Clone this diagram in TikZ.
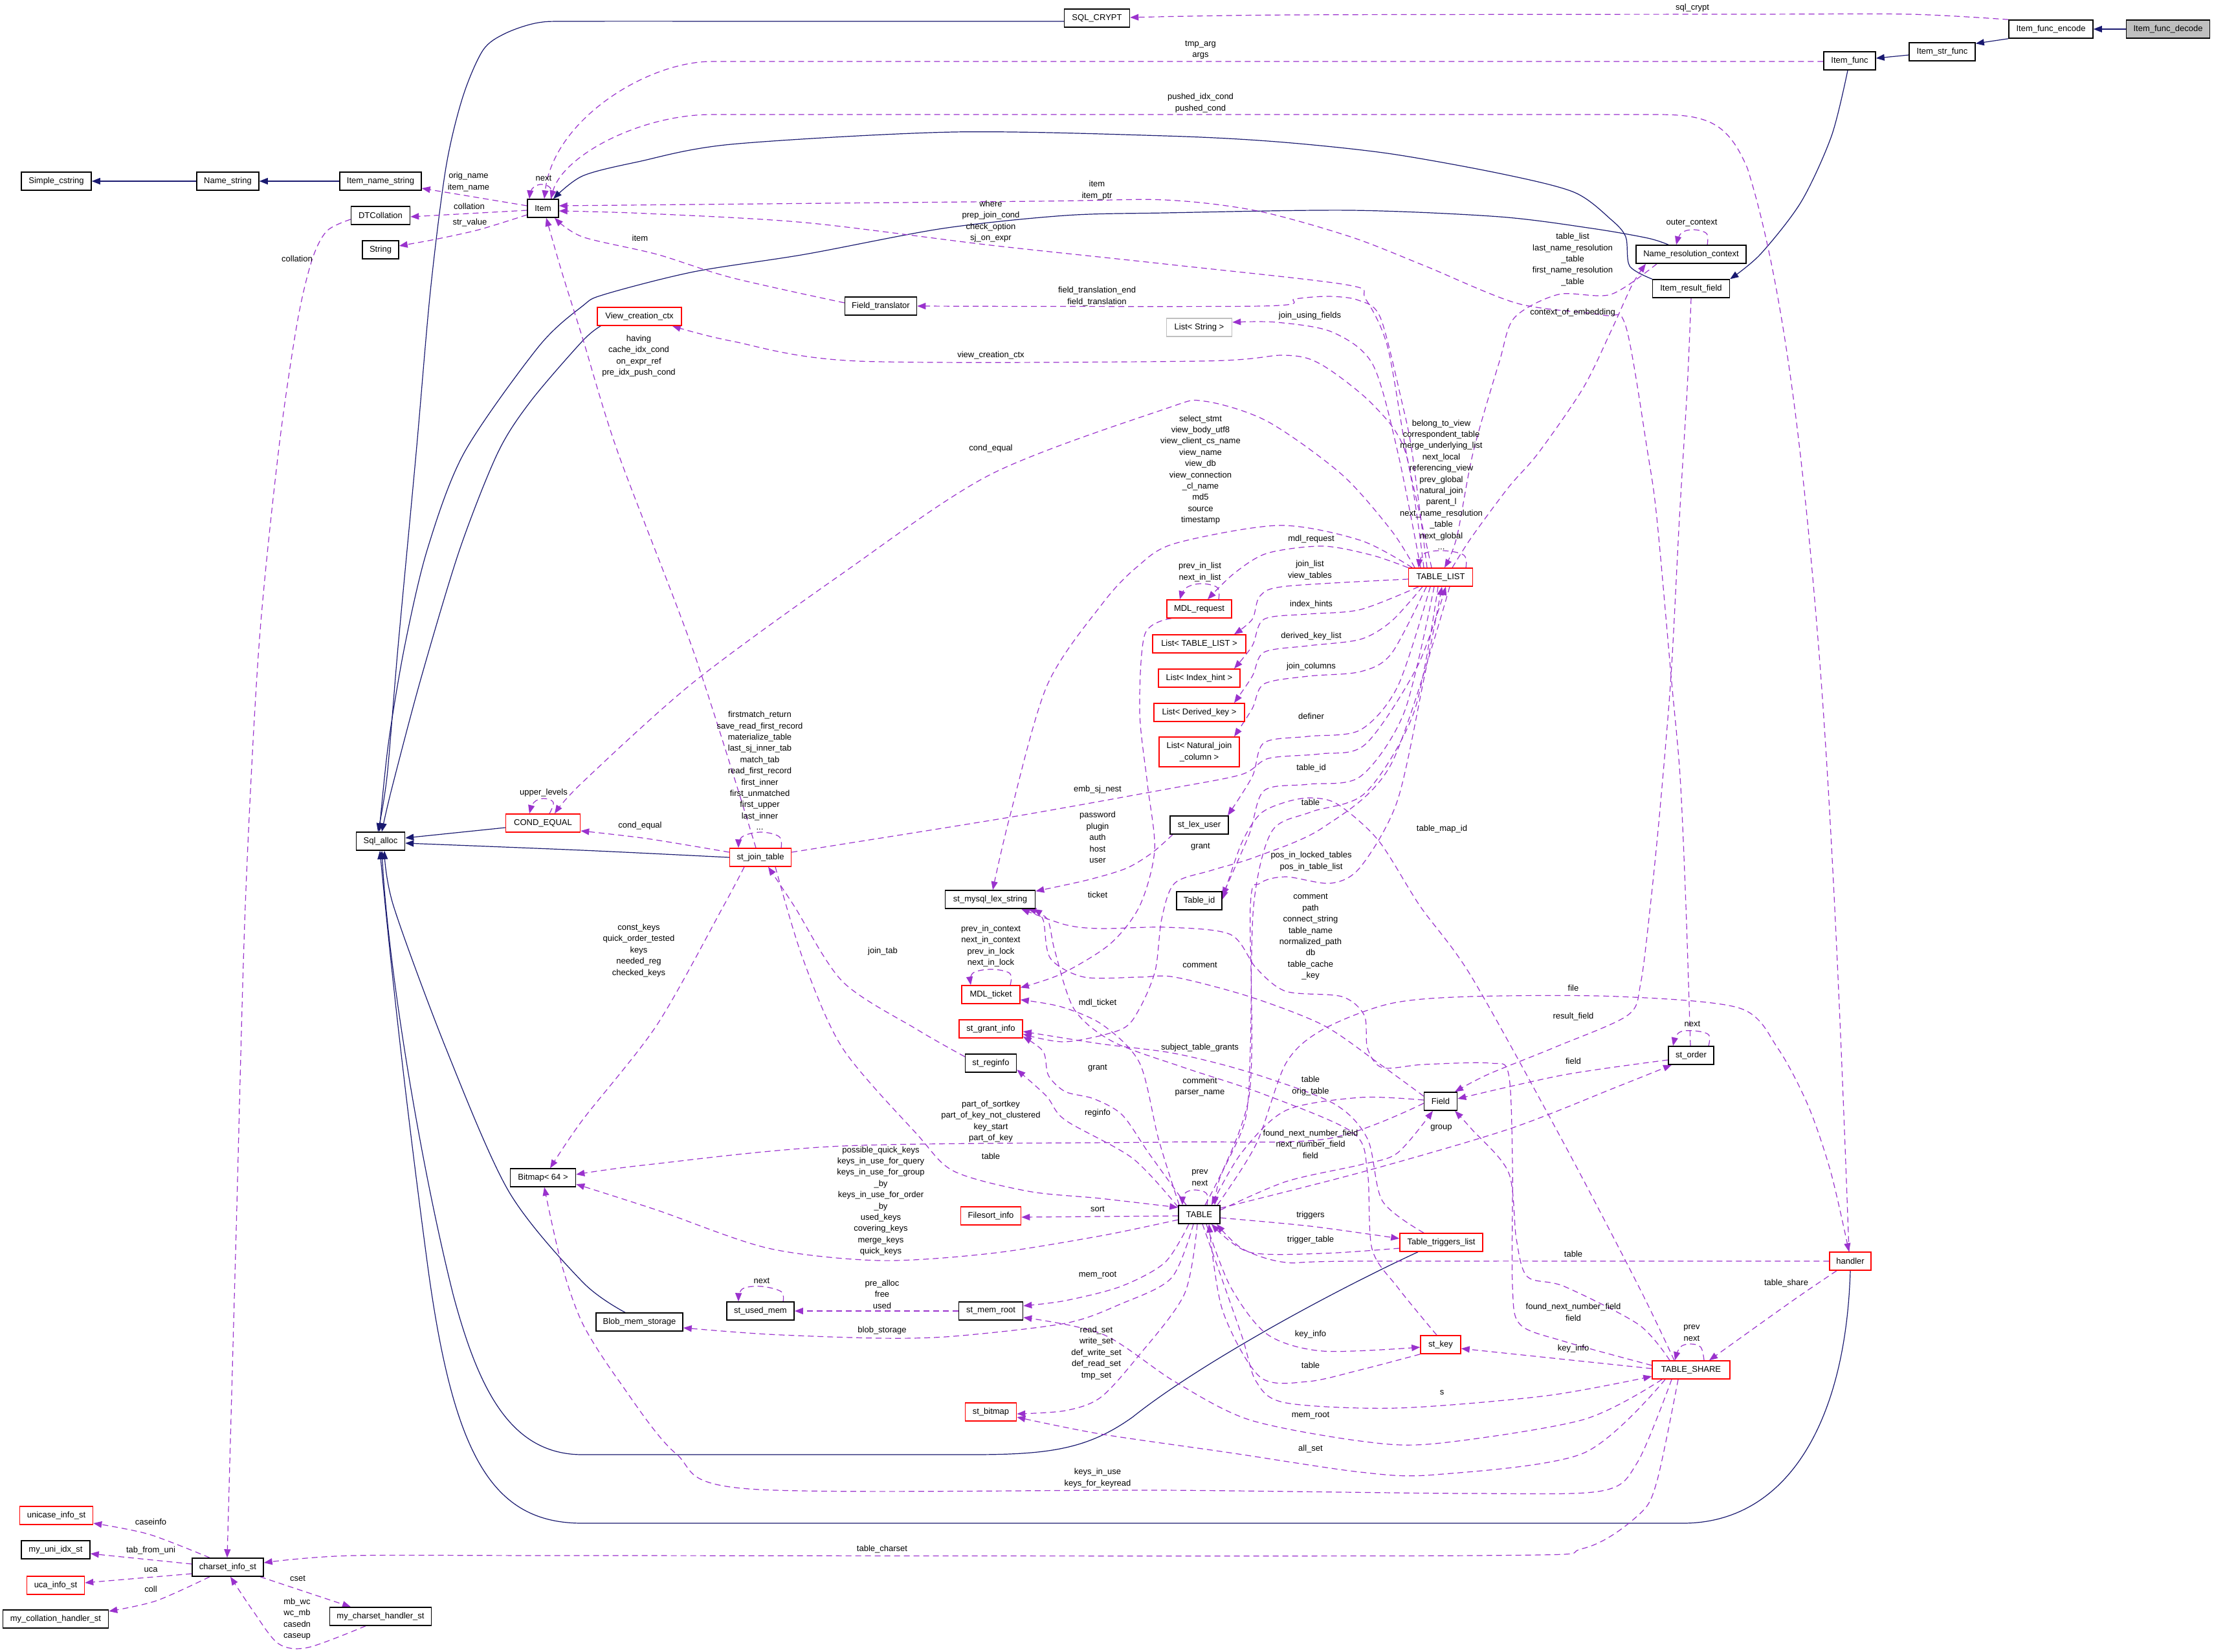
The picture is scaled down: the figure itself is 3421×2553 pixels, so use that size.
\documentclass[tikz,border=0pt]{standalone}
\usepackage{fontspec}
\setmainfont{Liberation Sans}
\usetikzlibrary{arrows.meta}
\definecolor{navy}{HTML}{191970}
\definecolor{purp}{HTML}{9A32CD}
\definecolor{boxred}{HTML}{FF0000}
\pgfdeclarelayer{edgelayer}
\pgfsetlayers{edgelayer,main}
\newcommand\dxfont{\fontsize{13}{17.4}\selectfont}
\tikzset{
 cls/.style={draw=black, line width=1.5pt, fill=white, minimum height=28pt, inner sep=0pt, font=\dxfont},
 rcls/.style={cls, draw=boxred},
 gcls/.style={cls, draw=gray!50},
 inh/.style={draw=navy, line width=1.2pt, -{Triangle[length=13pt,width=10pt]}},
 dep/.style={draw=purp, line width=1.2pt, dash pattern=on 9pt off 6pt, -{Triangle[length=13pt,width=10pt]}},
 lab/.style={font=\dxfont, align=center, inner sep=0pt},
}
\begin{document}
\begin{tikzpicture}[x=1pt,y=-1pt]
\useasboundingbox (0,0) rectangle (3421,2553);
\begin{pgfonlayer}{edgelayer}\fill[white] (0,0) rectangle (3421,2553);\end{pgfonlayer}
% ---------------- nodes
\node[cls,minimum width=108pt] (simple) at (87,280) {Simple\_cstring};
\node[cls,minimum width=96pt] (namestr) at (352,280) {Name\_string};
\node[cls,minimum width=126pt] (itemname) at (588,280) {Item\_name\_string};
\node[cls,minimum width=48pt] (item) at (839,322) {Item};
\node[cls,minimum width=91pt] (dtcoll) at (588,333) {DTCollation};
\node[cls,minimum width=56pt] (string) at (588,386) {String};
\node[cls,minimum width=101pt] (sqlcrypt) at (1695,28) {SQL\_CRYPT};
\node[cls,minimum width=130pt] (encode) at (3169,45) {Item\_func\_encode};
\node[cls,minimum width=129pt,fill=gray!50] (decode) at (3350,45) {Item\_func\_decode};
\node[cls,minimum width=102pt] (strfunc) at (3001,80) {Item\_str\_func};
\node[cls,minimum width=80pt] (func) at (2858,94) {Item\_func};
\node[cls,minimum width=170pt] (nrc) at (2613,393) {Name\_resolution\_context};
\node[cls,minimum width=119pt] (irf) at (2613,446) {Item\_result\_field};
\node[gcls,minimum width=101pt] (liststring) at (1853,506) {List< String >};
\node[cls,minimum width=111pt] (ftrans) at (1361,473) {Field\_translator};
\node[rcls,minimum width=130pt] (vcc) at (988,489) {View\_creation\_ctx};
\node[rcls,minimum width=115pt] (condeq) at (839,1272) {COND\_EQUAL};
\node[cls,minimum width=75pt] (sqlalloc) at (588,1300) {Sql\_alloc};
\node[rcls,minimum width=95pt] (jt) at (1175,1325) {st\_join\_table};
\node[cls,minimum width=139pt] (lex) at (1530,1390) {st\_mysql\_lex\_string};
\node[rcls,minimum width=99pt] (tl) at (2226,892) {TABLE\_LIST};
\node[rcls,minimum width=100pt] (mdlreq) at (1853,941) {MDL\_request};
\node[rcls,minimum width=144pt] (ltl) at (1853,995) {List< TABLE\_LIST >};
\node[rcls,minimum width=126pt] (lih) at (1853,1048) {List< Index\_hint >};
\node[rcls,minimum width=140pt] (ldk) at (1853,1101) {List< Derived\_key >};
\node[rcls,minimum width=124pt,minimum height=46pt,align=center] (lnj) at (1853,1162) {List< Natural\_join\\\_column >};
\node[cls,minimum width=90pt] (lexuser) at (1853,1275) {st\_lex\_user};
\node[cls,minimum width=70pt] (tid) at (1853,1392) {Table\_id};
\node[rcls,minimum width=90pt] (ticket) at (1531,1537) {MDL\_ticket};
\node[rcls,minimum width=98pt] (grant) at (1531,1590) {st\_grant\_info};
\node[cls,minimum width=79pt] (reginfo) at (1531,1643) {st\_reginfo};
\node[rcls,minimum width=93pt] (filesort) at (1531,1879) {Filesort\_info};
\node[cls,minimum width=104pt] (usedmem) at (1175,2026) {st\_used\_mem};
\node[cls,minimum width=99pt] (memroot) at (1531,2026) {st\_mem\_root};
\node[cls,minimum width=134pt] (blob) at (988,2043) {Blob\_mem\_storage};
\node[rcls,minimum width=79pt] (stbitmap) at (1531,2182) {st\_bitmap};
\node[cls,minimum width=101pt] (bitmap) at (839,1820) {Bitmap< 64 >};
\node[cls,minimum width=110pt] (cs) at (352,2422) {charset\_info\_st};
\node[rcls,minimum width=113pt] (unicase) at (87,2342) {unicase\_info\_st};
\node[cls,minimum width=106pt] (uniidx) at (86,2395) {my\_uni\_idx\_st};
\node[rcls,minimum width=89pt] (uca) at (86,2450) {uca\_info\_st};
\node[cls,minimum width=163pt] (collh) at (86,2502) {my\_collation\_handler\_st};
\node[cls,minimum width=157pt] (csh) at (588,2498) {my\_charset\_handler\_st};
\node[cls,minimum width=64pt] (table) at (1853,1877) {TABLE};
\node[cls,minimum width=51pt] (field) at (2226,1702) {Field};
\node[rcls,minimum width=128pt] (ttl) at (2227,1920) {Table\_triggers\_list};
\node[rcls,minimum width=62pt] (stkey) at (2226,2078) {st\_key};
\node[rcls,minimum width=120pt] (share) at (2613,2117) {TABLE\_SHARE};
\node[rcls,minimum width=64pt] (handler) at (2859,1949) {handler};
\node[cls,minimum width=70pt] (order) at (2613,1631) {st\_order};
% ---------------- edges
\begin{pgfonlayer}{edgelayer}
% inheritance
\draw[inh] (namestr.west) -- (simple.east);
\draw[inh] (itemname.west) -- (namestr.east);
\draw[inh] (decode.west) -- (encode.east);
\draw[inh] (encode.south west) -- ([yshift=-2pt]strfunc.north east);
\draw[inh] ([yshift=-5pt]strfunc.west) -- ([yshift=4pt]func.east);
\draw[inh] plot[smooth,tension=.5] coordinates {([xshift=-3pt]func.south) (2830,210) (2783,312) (2720,393) (irf.north east)};
\draw[inh] plot[smooth,tension=.5] coordinates {(irf.north west) (2518,411) (2512,366) (2489,339) (2432,297) (2317,268) (2144,237) (1972,219) (1800,210) (1474,204) (1130,223) (986,250) (900,272) ([xshift=16pt]item.north)};
\draw[inh] plot[smooth,tension=.5] coordinates {([xshift=-35pt]nrc.north) (2546,368) (2460,353) (2317,335) (2087,325) (1800,329) (1646,333) (1457,353) (1244,393) (1072,420) (934,455) (900,473) (832,536) (717,700) (660,850) (625,1000) (600,1150) ([xshift=-2pt]sqlalloc.north)};
\draw[inh] plot[smooth,tension=.5] coordinates {([yshift=-5pt]sqlcrypt.west) (1200,33) (900,33) (832,35) (780,52) (746,78) (715,150) (689,259) (665,450) (643,700) (615,1000) (598,1200) ([xshift=-4pt]sqlalloc.north)};
\draw[inh] plot[smooth,tension=.5] coordinates {([xshift=6pt]vcc.south west) (900,527) (820,620) (769,700) (710,850) (650,1050) (605,1220) ([xshift=2pt]sqlalloc.north)};
\draw[inh] ([yshift=-7pt]condeq.west) -- ([yshift=5pt]sqlalloc.east);
\draw[inh] plot[smooth,tension=.5] coordinates {(jt.west) (900,1314) ([yshift=-3pt]sqlalloc.east)};
\draw[inh] plot[smooth,tension=.5] coordinates {([xshift=-22pt]blob.north) (900,1981) (786,1841) (689,1620) (608,1400) ([xshift=6pt]sqlalloc.south)};
\draw[inh] ([xshift=-36pt]ttl.south) .. controls (2050,2000) and (1850,2110) .. (1750,2190) .. controls (1680,2240) and (1620,2248) .. (1500,2248) -- (900,2248) .. controls (790,2248) and (740,2150) .. (700,2000) .. controls (650,1800) and (600,1500) .. ([xshift=2pt]sqlalloc.south);
\draw[inh] (handler.south) .. controls (2852,2200) and (2760,2354) .. (2600,2354) -- (900,2354) .. controls (760,2354) and (700,2250) .. (660,1950) .. controls (620,1650) and (600,1450) .. ([xshift=-1pt]sqlalloc.south);
% usage (top part)
\draw[dep] plot[smooth,tension=.5] coordinates {(encode.north west) (2950,22) (2700,22) (2000,23) ([yshift=1pt]sqlcrypt.east)};
\draw[dep] ([yshift=-1pt]func.west) -- (1100,95) .. controls (1000,95) and (855,185) .. ([xshift=2pt]item.north);
\draw[dep] ([xshift=-2pt]handler.north) .. controls (2845,1600) and (2830,1250) .. (2810,1000) .. controls (2790,750) and (2760,450) .. (2700,260) .. controls (2670,190) and (2640,177) .. (2560,177) -- (1100,177) .. controls (990,177) and (870,240) .. ([xshift=12pt]item.north);
\draw[dep] plot[smooth,tension=.5] coordinates {([xshift=-1pt]order.north) (2605,1400) (2596,1200) (2582,1044) (2560,800) (2546,700) (2512,504) (2477,487) (2345,469) (2202,411) (2087,366) (1943,326) (1800,309) (1600,311) ([yshift=4pt]item.east)};
\draw[dep] plot[smooth,tension=.5] coordinates {([xshift=-14pt]tl.north) (2195,800) (2173,700) (2144,536) (2110,462) (2080,440) (1800,408) (1531,379) (1244,344) (1000,330) ([yshift=-4pt]item.east)};
\draw[dep] plot[smooth,tension=.5] coordinates {([yshift=5pt]ftrans.west) (1130,429) (1015,393) (900,366) ([xshift=18pt]item.south)};
\draw[dep] plot[smooth,tension=.5] coordinates {([xshift=-21pt]tl.north) (2182,700) (2167,625) (2133,491) (2099,464) (2053,458) (2001,462) (1949,473) (ftrans.east)};
\draw[dep] plot[smooth,tension=.5] coordinates {([xshift=-31pt]tl.north) (2160,700) (2121,563) (2058,513) (1972,498) ([yshift=8pt]liststring.east)};
\draw[dep] plot[smooth,tension=.5] coordinates {([xshift=-26pt]tl.north) (2172,700) (2121,625) (2041,563) (1984,549) (1857,558) (1325,558) (1130,527) ([xshift=-15pt]vcc.south east)};
\draw[dep] plot[smooth,tension=.5] coordinates {([xshift=-40pt]tl.north) (2150,820) (2073,733) (1958,651) (1861,620) (1800,632) (1531,733) (1302,886) (1072,1054) (900,1209) ([xshift=18pt]condeq.north)};
\draw[dep] plot[smooth,tension=.5] coordinates {([xshift=-44pt]tl.north) (2102,835) (1976,812) (1815,840) (1757,876) (1704,932) (1618,1059) (1560,1263) ([xshift=4pt]lex.north)};
\draw[dep] plot[smooth,tension=.5] coordinates {(tl.north west) (2120,858) (2044,844) (1958,855) (1907,886) ([xshift=13pt]mdlreq.north)};
\draw[dep] plot[smooth,tension=.6] coordinates {([xshift=30pt]mdlreq.north) (1881,908) (1855,902) (1832,909) ([xshift=-30pt]mdlreq.north)};
\draw[dep] plot[smooth,tension=.5] coordinates {([yshift=-3pt]tl.west) (1987,906) (1947,921) (1935,957) ([xshift=54pt]ltl.north)};
\draw[dep] plot[smooth,tension=.5] coordinates {([xshift=-34pt]tl.south) (2102,942) (2021,949) (1953,957) (1935,998) ([xshift=54pt]lih.north)};
\draw[dep] plot[smooth,tension=.5] coordinates {([xshift=-28pt]tl.south) (2150,960) (2102,988) (2021,998) (1953,1008) (1935,1045) ([xshift=54pt]ldk.north)};
\draw[dep] plot[smooth,tension=.5] coordinates {([xshift=-22pt]tl.south) (2150,1010) (2102,1038) (2021,1045) (1953,1057) (1935,1095) ([xshift=54pt]lnj.north)};
\draw[dep] plot[smooth,tension=.5] coordinates {([xshift=-16pt]tl.south) (2160,1060) (2102,1128) (2021,1138) (1953,1148) (1935,1200) ([xshift=44pt]lexuser.north)};
\draw[dep] plot[smooth,tension=.5] coordinates {([xshift=-10pt]tl.south) (2170,1100) (2102,1200) (2021,1212) (1953,1222) (1930,1290) ([yshift=8pt]tid.east)};
\draw[dep] plot[smooth,tension=.5] coordinates {([xshift=-4pt]tl.south) (2185,1100) (2110,1225) (2025,1255) (1965,1285) (1937,1400) (1932,1620) (1924,1731) (1885,1820) ([xshift=24pt]table.north)};
\draw[dep] plot[smooth,tension=.5] coordinates {([xshift=14pt]tl.south) (2150,1180) (2044,1279) (1941,1324) (1872,1345) (1815,1365) (1795,1420) (1785,1500) (1760,1560) (1732,1591) (1646,1610) ([yshift=-8pt]grant.east)};
\draw[dep] plot[smooth,tension=.5] coordinates {([xshift=9pt]table.north) (1930,1694) (1932,1400) (1947,1365) (1987,1355) (2056,1365) (2102,1340) (2159,1238) (2200,1050) ([xshift=2pt]tl.south)};
\draw[dep] plot[smooth,tension=.5] coordinates {([xshift=-26pt]share.north) (2532,1988) (2417,1768) (2274,1510) (2194,1400) (2130,1299) (2067,1243) (2025,1233) (1985,1240) (1947,1258) (1918,1304) ([yshift=2pt]tid.east)};
\draw[dep] plot[smooth,tension=.5] coordinates {([yshift=8pt]jt.east) (1560,1263) (1800,1220) (1918,1197) (1960,1172) (2040,1165) (2110,1150) (2190,1030) ([xshift=8pt]tl.south)};
\draw[dep] plot[smooth,tension=.5] coordinates {([xshift=-53pt]nrc.south) (2489,455) (2408,455) (2340,491) (2317,558) (2276,700) (2251,830) ([xshift=6pt]tl.north)};
\draw[dep] plot[smooth,tension=.5] coordinates {([xshift=18pt]tl.north) (2274,830) (2331,753) (2377,700) (2446,600) (2490,510) (2522,440) ([xshift=-70pt]nrc.south)};
\draw[dep] plot[smooth,tension=.6] coordinates {([xshift=39pt]tl.north) (2262,858) (2230,851) (2200,856) ([xshift=-34pt]tl.north)};
\draw[dep] plot[smooth,tension=.6] coordinates {([xshift=25pt]nrc.north) (2637,361) (2617,355) (2598,360) ([xshift=-23pt]nrc.north)};
\draw[dep] plot[smooth,tension=.6] coordinates {([xshift=13pt]item.north) (850,290) (835,285) (822,292) ([xshift=-21pt]item.north)};
\draw[dep] ([yshift=4pt]item.west) -- ([yshift=-11pt]itemname.east);
\draw[dep] ([yshift=-3pt]item.west) -- ([yshift=-2pt]dtcoll.east);
\draw[dep] plot[smooth,tension=.5] coordinates {([yshift=-10pt]item.west) (740,355) (672,370) ([yshift=6pt]string.east)};
\draw[dep] plot[smooth,tension=.5] coordinates {([yshift=-6pt]dtcoll.west) (505,357) (482,402) (459,500) (430,700) (400,1000) (379,1400) (365,1900) ([xshift=-1pt]cs.north)};
% middle part
\draw[dep] plot[smooth,tension=.6] coordinates {([xshift=10pt]condeq.north) (855,1240) (840,1234) (825,1240) ([xshift=-21pt]condeq.north)};
\draw[dep] plot[smooth,tension=.5] coordinates {([yshift=8pt]jt.west) (1000,1296) ([yshift=-12pt]condeq.east)};
\draw[dep] plot[smooth,tension=.6] coordinates {([xshift=32pt]jt.north) (1204,1293) (1176,1286) (1147,1293) ([xshift=-34pt]jt.north)};
\draw[dep] plot[smooth,tension=.5] coordinates {([xshift=-7pt]jt.north) (1072,1008) (955,700) (900,522) (868,420) ([xshift=5pt]item.south)};
\draw[dep] plot[smooth,tension=.5] coordinates {([xshift=-25pt]jt.south) (1118,1400) (1015,1584) (900,1731) ([xshift=11pt]bitmap.north)};
\draw[dep] plot[smooth,tension=.5] coordinates {([xshift=23pt]jt.south) (1240,1480) (1302,1620) (1417,1753) (1474,1810) (1589,1841) (1700,1852) ([yshift=11pt]table.west)};
\draw[dep] plot[smooth,tension=.5] coordinates {([yshift=10pt]reginfo.west) (1417,1591) (1302,1517) (1227,1400) ([xshift=12pt]jt.south)};
\draw[dep] plot[smooth,tension=.5] coordinates {([xshift=-41pt]lexuser.south) (1780,1318) (1740,1342) (1680,1360) ([yshift=-2pt]lex.north east)};
\draw[dep] plot[smooth,tension=.5] coordinates {([xshift=-43pt]mdlreq.south) (1769,980) (1761,1100) (1773,1212) (1784,1314) (1761,1400) (1715,1459) (1640,1505) ([yshift=-4pt]ticket.north east)};
\draw[dep] plot[smooth,tension=.6] coordinates {([xshift=30pt]ticket.north) (1560,1504) (1531,1498) (1503,1504) ([xshift=-31pt]ticket.north)};
\draw[dep] plot[smooth,tension=.5] coordinates {([xshift=-31pt]table.north) (1790,1760) (1761,1643) (1704,1584) (1640,1556) ([yshift=-8pt]ticket.east)};
\draw[dep] plot[smooth,tension=.5] coordinates {([xshift=-20pt]table.north) (1775,1782) (1734,1723) (1690,1698) (1646,1687) (1620,1662) (1612,1625) ([yshift=-12pt]grant.east)};
\draw[dep] plot[smooth,tension=.5] coordinates {([xshift=-27pt]ttl.north) (2136,1856) (2113,1760) (2060,1705) (1930,1657) (1815,1628) (1700,1613) ([yshift=-4pt]grant.east)};
\draw[dep] plot[smooth,tension=.5] coordinates {([yshift=-3pt]table.north west) (1750,1790) (1646,1731) (1617,1694) ([yshift=-10pt]reginfo.east)};
\draw[dep] ([yshift=-2pt]table.west) -- ([yshift=-2pt]filesort.east);
\draw[dep] plot[smooth,tension=.5] coordinates {([yshift=-8pt]table.west) (1700,1910) (1531,1937) (1359,1948) (1187,1929) (1015,1870) ([yshift=-10pt]bitmap.east)};
\draw[dep] plot[smooth,tension=.5] coordinates {([yshift=-3pt]field.west) (2050,1760) (1800,1765) (1302,1771) (1000,1800) ([yshift=5pt]bitmap.east)};
\draw[dep] plot[smooth,tension=.5] coordinates {([yshift=7pt]table.east) (1987,1826) (2102,1800) (2159,1782) ([xshift=-12pt]field.south)};
\draw[dep] plot[smooth,tension=.5] coordinates {([yshift=2pt]field.west) (2102,1696) (1987,1716) (1918,1782) ([xshift=19pt]table.north)};
\draw[dep] plot[smooth,tension=.5] coordinates {([yshift=8pt]field.west) (2130,1643) (2044,1584) (1930,1540) (1815,1510) (1761,1510) (1675,1510) (1623,1481) (1612,1422) ([xshift=67pt]lex.south)};
\draw[dep] plot[smooth,tension=.5] coordinates {([xshift=-6pt]stkey.north) (2160,1990) (2120,1930) (2113,1812) (2090,1750) (1950,1690) (1830,1650) (1720,1610) (1660,1560) (1630,1470) (1618,1420) ([xshift=58pt]lex.south)};
\draw[dep] plot[smooth,tension=.5] coordinates {([yshift=7pt]share.west) (2417,2073) (2349,2047) (2337,1988) (2337,1800) (2331,1660) (2303,1643) (2200,1645) (2136,1650) (2113,1620) (2108,1569) (2073,1540) (1987,1532) (1941,1496) (1901,1444) (1803,1433) (1700,1435) (1646,1429) ([xshift=48pt]lex.south)};
\draw[dep] plot[smooth,tension=.6] coordinates {([xshift=12pt]table.north) (1864,1844) (1845,1839) (1830,1845) ([xshift=-26pt]table.north)};
\draw[dep] plot[smooth,tension=.5] coordinates {([xshift=5pt]table.south) (1918,2062) (1941,2135) (1987,2168) (2159,2176) (2389,2157) ([yshift=-10pt]share.west)};
\draw[dep] plot[smooth,tension=.5] coordinates {([xshift=28pt]table.north) (1941,1768) (1987,1643) (2044,1591) (2148,1551) (2274,1540) (2500,1540) (2688,1558) (2747,1620) (2794,1709) (2829,1812) ([xshift=-2pt]handler.north)};
\draw[dep] plot[smooth,tension=.5] coordinates {([yshift=-5pt]table.east) (2025,1895) ([yshift=6pt]ttl.west)};
\draw[dep] plot[smooth,tension=.5] coordinates {([yshift=-9pt]ttl.west) (2044,1937) (1930,1935) ([xshift=19pt]table.south)};
\draw[dep] plot[smooth,tension=.5] coordinates {(handler.west) (2100,1949) (1987,1951) (1920,1930) ([xshift=27pt]table.south)};
\draw[dep] plot[smooth,tension=.5] coordinates {([xshift=11pt]table.south) (1901,1988) (1958,2062) (2044,2088) ([yshift=-4pt]stkey.west)};
\draw[dep] plot[smooth,tension=.5] coordinates {(stkey.south west) (2102,2117) (2021,2135) (1947,2128) (1889,2025) ([xshift=15pt]table.south)};
\draw[dep] ([yshift=2pt]share.west) -- ([yshift=-6pt]stkey.east);
\draw[dep] plot[smooth,tension=.5] coordinates {([xshift=-33pt]share.north) (2532,2047) (2417,1988) (2360,1973) (2343,1915) (2331,1812) (2274,1745) ([xshift=22pt]field.south)};
\draw[dep] plot[smooth,tension=.6] coordinates {([xshift=20pt]share.north) (2628,2082) (2612,2077) (2596,2082) ([xshift=-25pt]share.north)};
\draw[dep] plot[smooth,tension=.5] coordinates {([xshift=-21pt]handler.south) (2770,2010) ([xshift=28pt]share.north)};
\draw[dep] plot[smooth,tension=.5] coordinates {([xshift=-45pt]share.south) (2446,2194) (2217,2231) (2102,2227) (1930,2194) (1815,2135) (1704,2062) ([yshift=-10pt]memroot.east)};
\draw[dep] plot[smooth,tension=.5] coordinates {([xshift=-16pt]table.south) (1800,1951) (1732,1988) (1646,2010) ([yshift=8pt]memroot.east)};
\draw[dep] plot[smooth,tension=.5] coordinates {([xshift=-9pt]table.south) (1810,1975) (1732,2015) (1646,2045) (1474,2065) (1359,2068) (1187,2062) ([yshift=-9pt]blob.east)};
\draw[dep] plot[smooth,tension=.5] coordinates {([xshift=-3pt]table.south) (1830,2000) (1757,2098) (1700,2160) (1646,2180) ([yshift=-3pt]stbitmap.east)};
\draw[dep] plot[smooth,tension=.5] coordinates {([xshift=-40pt]share.south) (2446,2246) (2217,2279) (2102,2275) (1900,2245) (1700,2216) ([yshift=-8pt]stbitmap.east)};
\draw[dep] plot[smooth,tension=.5] coordinates {([xshift=-30pt]share.south) (2530,2260) (2475,2304) (2274,2308) (1800,2303) (1158,2301) (1044,2246) (957,2135) (900,2045) (867,1951) ([xshift=2pt]bitmap.south)};
\draw[dep] plot[smooth,tension=.5] coordinates {([xshift=-20pt]share.south) (2560,2290) (2532,2341) (2446,2393) (2274,2404) (900,2404) (545,2404) ([yshift=7pt]cs.east)};
\draw[dep] plot[smooth,tension=.5] coordinates {(irf.south) (2607,600) (2595,800) (2582,1044) (2565,1250) (2550,1400) (2535,1520) (2515,1569) (2406,1617) (2300,1660) ([xshift=22pt]field.north)};
\draw[dep] plot[smooth,tension=.5] coordinates {([yshift=-7pt]order.west) (2417,1661) ([yshift=4pt]field.east)};
\draw[dep] plot[smooth,tension=.5] coordinates {([yshift=10pt]table.east) (2102,1812) (2331,1745) (2500,1679) ([xshift=-30pt]order.south)};
\draw[dep] plot[smooth,tension=.6] coordinates {([xshift=27pt]order.north) (2640,1599) (2617,1593) (2594,1596) ([xshift=-28pt]order.north)};
\draw[dep] plot[smooth,tension=.6] coordinates {([xshift=35pt]usedmem.north) (1207,1996) (1176,1988) (1147,1992) ([xshift=-34pt]usedmem.north)};
\draw[dep] (memroot.west) -- (usedmem.east);
% charset part
\draw[dep] plot[smooth,tension=.5] coordinates {([xshift=-28pt]cs.north) (230,2371) ([yshift=-12pt]unicase.east)};
\draw[dep] ([yshift=5pt]cs.west) -- ([yshift=-6pt]uniidx.east);
\draw[dep] ([yshift=-10pt]cs.west) -- ([yshift=4pt]uca.east);
\draw[dep] plot[smooth,tension=.5] coordinates {([xshift=-28pt]cs.south) (241,2474) ([yshift=12pt]collh.east)};
\draw[dep] ([xshift=50pt]cs.south) -- ([xshift=-46pt]csh.north);
\draw[dep] plot[smooth,tension=.5] coordinates {([xshift=-23pt]csh.south) (476,2546) (430,2540) (390,2488) ([xshift=4pt]cs.south)};
\end{pgfonlayer}
% ---------------- labels
\node[lab] (t1) at (2615,12) {sql\_crypt};
\node[lab] (t2) at (1855,77) {tmp\_arg\\args};
\node[lab] (t3) at (1855,159) {pushed\_idx\_cond\\pushed\_cond};
\node[lab] (t4) at (1695,294) {item\\item\_ptr};
\node[lab] (t5) at (1531,342) {where\\prep\_join\_cond\\check\_option\\sj\_on\_expr};
\node[lab] (t6) at (989,368) {item};
\node[lab] (t7) at (1695,458) {field\_translation\_end\\field\_translation};
\node[lab] (t8) at (2024,488) {join\_using\_fields};
\node[lab] (t9) at (1531,549) {view\_creation\_ctx};
\node[lab] (t10) at (987,550) {having\\cache\_idx\_cond\\on\_expr\_ref\\pre\_idx\_push\_cond};
\node[lab] (t11) at (1531,693) {cond\_equal};
\node[lab] (t12) at (1855,726) {select\_stmt\\view\_body\_utf8\\view\_client\_cs\_name\\view\_name\\view\_db\\view\_connection\\\_cl\_name\\md5\\source\\timestamp};
\node[lab] (t13) at (2227,749) {belong\_to\_view\\correspondent\_table\\merge\_underlying\_list\\next\_local\\referencing\_view\\prev\_global\\natural\_join\\parent\_l\\next\_name\_resolution\\\_table\\next\_global\\...};
\node[lab] (t14) at (2430,401) {table\_list\\last\_name\_resolution\\\_table\\first\_name\_resolution\\\_table};
\node[lab] (t15) at (2430,483) {context\_of\_embedding};
\node[lab] (t16) at (2614,345) {outer\_context};
\node[lab] (t17) at (840,275) {next};
\node[lab] (t18) at (724,281) {orig\_name\\item\_name};
\node[lab] (t19) at (725,319) {collation};
\node[lab] (t20) at (726,344) {str\_value};
\node[lab] (t21) at (459,400) {collation};
\node[lab] (t22) at (2026,833) {mdl\_request};
\node[lab] (t23) at (1854,884) {prev\_in\_list\\next\_in\_list};
\node[lab] (t24) at (2024,881) {join\_list\\view\_tables};
\node[lab] (t25) at (2026,934) {index\_hints};
\node[lab] (t26) at (2026,983) {derived\_key\_list};
\node[lab] (t27) at (2026,1030) {join\_columns};
\node[lab] (t28) at (2026,1107) {definer};
\node[lab] (t29) at (2026,1187) {table\_id};
\node[lab] (t30) at (2025,1240) {table};
\node[lab] (t31) at (2228,1281) {table\_map\_id};
\node[lab] (t32) at (1855,1309) {grant};
\node[lab] (t33) at (2026,1331) {pos\_in\_locked\_tables\\pos\_in\_table\_list};
\node[lab] (t34) at (1696,1220) {emb\_sj\_nest};
\node[lab] (t35) at (1696,1294) {password\\plugin\\auth\\host\\user};
\node[lab] (t36) at (1696,1383) {ticket};
\node[lab] (t37) at (840,1225) {upper\_levels};
\node[lab] (t38) at (989,1276) {cond\_equal};
\node[lab] (t39) at (1174,1191) {firstmatch\_return\\save\_read\_first\_record\\materialize\_table\\last\_sj\_inner\_tab\\match\_tab\\read\_first\_record\\first\_inner\\first\_unmatched\\first\_upper\\last\_inner\\...};
\node[lab] (t40) at (987,1469) {const\_keys\\quick\_order\_tested\\keys\\needed\_reg\\checked\_keys};
\node[lab] (t41) at (1364,1470) {join\_tab};
\node[lab] (t42) at (1531,1462) {prev\_in\_context\\next\_in\_context\\prev\_in\_lock\\next\_in\_lock};
\node[lab] (t43) at (1696,1550) {mdl\_ticket};
\node[lab] (t44) at (1696,1651) {grant};
\node[lab] (t45) at (1696,1720) {reginfo};
\node[lab] (t46) at (1531,1733) {part\_of\_sortkey\\part\_of\_key\_not\_clustered\\key\_start\\part\_of\_key};
\node[lab] (t47) at (1531,1787) {table};
\node[lab] (t48) at (1361,1856) {possible\_quick\_keys\\keys\_in\_use\_for\_query\\keys\_in\_use\_for\_group\\\_by\\keys\_in\_use\_for\_order\\\_by\\used\_keys\\covering\_keys\\merge\_keys\\quick\_keys};
\node[lab] (t49) at (1696,1868) {sort};
\node[lab] (t50) at (1696,1971) {mem\_root};
\node[lab] (t51) at (1177,1979) {next};
\node[lab] (t52) at (1363,2000) {pre\_alloc\\free\\used};
\node[lab] (t53) at (1363,2056) {blob\_storage};
\node[lab] (t54) at (1694,2091) {read\_set\\write\_set\\def\_write\_set\\def\_read\_set\\tmp\_set};
\node[lab] (t55) at (1696,2284) {keys\_in\_use\\keys\_for\_keyread};
\node[lab] (t56) at (1363,2394) {table\_charset};
\node[lab] (t57) at (1854,1491) {comment};
\node[lab] (t58) at (2025,1448) {comment\\path\\connect\_string\\table\_name\\normalized\_path\\db\\table\_cache\\\_key};
\node[lab] (t59) at (1854,1619) {subject\_table\_grants};
\node[lab] (t60) at (1854,1680) {comment\\parser\_name};
\node[lab] (t61) at (2025,1678) {table\\orig\_table};
\node[lab] (t62) at (2025,1768) {found\_next\_number\_field\\next\_number\_field\\field};
\node[lab] (t63) at (1854,1820) {prev\\next};
\node[lab] (t64) at (2025,1878) {triggers};
\node[lab] (t65) at (2025,1916) {trigger\_table};
\node[lab] (t66) at (2025,2062) {key\_info};
\node[lab] (t67) at (2025,2110) {table};
\node[lab] (t68) at (2228,2152) {s};
\node[lab] (t69) at (2025,2188) {mem\_root};
\node[lab] (t70) at (2025,2239) {all\_set};
\node[lab] (t71) at (2431,1527) {file};
\node[lab] (t72) at (2431,1571) {result\_field};
\node[lab] (t73) at (2431,1640) {field};
\node[lab] (t74) at (2227,1743) {group};
\node[lab] (t75) at (2431,1938) {table};
\node[lab] (t76) at (2431,2028) {found\_next\_number\_field\\field};
\node[lab] (t77) at (2431,2084) {key\_info};
\node[lab] (t78) at (2615,1582) {next};
\node[lab] (t79) at (2760,1983) {table\_share};
\node[lab] (t80) at (2614,2060) {prev\\next};
\node[lab] (t81) at (233,2352) {caseinfo};
\node[lab] (t82) at (233,2396) {tab\_from\_uni};
\node[lab] (t83) at (233,2426) {uca};
\node[lab] (t84) at (233,2456) {coll};
\node[lab] (t85) at (460,2439) {cset};
\node[lab] (t86) at (459,2502) {mb\_wc\\wc\_mb\\casedn\\caseup};
\end{tikzpicture}
\end{document}
